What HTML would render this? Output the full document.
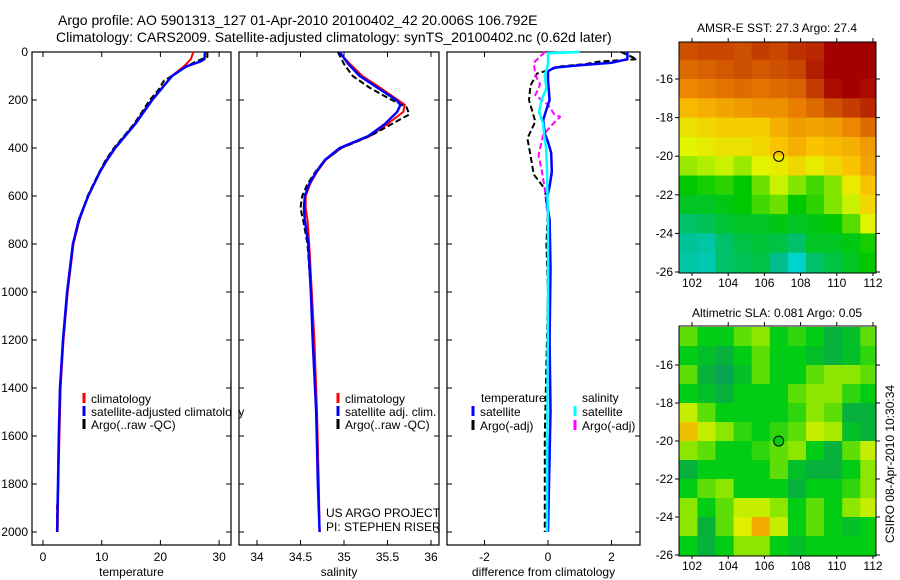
<!DOCTYPE html>
<html><head><meta charset="utf-8"><style>
html,body{margin:0;padding:0;background:#fff;}
svg{display:block;font-family:"Liberation Sans",sans-serif;}
</style></head><body>
<svg id="fig" width="900" height="580" viewBox="0 0 900 580" xmlns="http://www.w3.org/2000/svg">
<defs>
<clipPath id="c1"><rect x="679" y="42" width="197" height="231"/></clipPath>
<clipPath id="c2"><rect x="679" y="326" width="197" height="230"/></clipPath>
</defs>
<text x="58" y="25" font-size="14">Argo profile: AO 5901313_127 01-Apr-2010 20100402_42 20.006S 106.792E</text>
<text x="56" y="42" font-size="14">Climatology: CARS2009. Satellite-adjusted climatology: synTS_20100402.nc (0.62d later)</text>
<text x="777" y="32" font-size="12" text-anchor="middle">AMSR-E SST: 27.3 Argo: 27.4</text>
<text x="777" y="317" font-size="12" text-anchor="middle">Altimetric SLA: 0.081 Argo: 0.05</text>
<text x="0" y="0" font-size="12" text-anchor="middle" transform="translate(894,464) rotate(-90)">CSIRO 08-Apr-2010 10:30:34</text>
<g id="layer"></g>
</svg>
<script>
// ---- temperature profiles ----
const tDepthClim = [0,30,50,60,100,200,300,400,450,500,600,700,800,1000,1200,1400,1600,1800,2000];
const tClim      = [25.6,25.2,24.4,24.0,21.9,18.5,15.6,12.2,10.8,9.6,7.7,6.2,5.2,4.2,3.5,3.0,2.8,2.6,2.5];
const tDepthSat  = [0,30,40,60,100,200,300,400,450,500,600,700,800,1000,1200,1400,1600,1800,2000];
const tSat       = [27.6,27.5,26.8,24.4,22.0,18.6,15.7,12.3,10.9,9.7,7.7,6.1,5.1,4.1,3.4,2.9,2.7,2.55,2.4];
const tDepthArgo = [0,20,40,60,90,120,160,200,260,300,400,450,500,600,700,800,1000,1200,1400,1600,1800,1900,2000];
const tArgo      = [28.0,28.0,26.0,24.5,22.6,20.6,19.6,18.2,16.6,15.5,12.1,10.7,9.6,7.6,6.2,5.1,4.1,3.4,2.9,2.7,2.6,2.4,2.4];
// ---- salinity profiles ----
const sDepthClim = [0,20,50,100,150,200,220,250,300,350,400,450,500,550,600,650,700,800,1000,1200,1500,1800,2000];
const sClim      = [34.95,34.99,35.07,35.21,35.42,35.62,35.70,35.68,35.50,35.30,34.97,34.79,34.69,34.61,34.56,34.56,34.58,34.60,34.63,34.66,34.69,34.71,34.72];
const sDepthSat  = [0,20,50,100,150,200,220,250,300,350,400,450,500,550,600,650,700,800,1000,1200,1500,1800,2000];
const sSat       = [34.95,34.99,35.05,35.18,35.39,35.60,35.65,35.61,35.47,35.28,34.95,34.78,34.68,34.60,34.55,34.54,34.55,34.59,34.62,34.64,34.68,34.70,34.72];
const sDepthArgo = [0,50,100,150,200,230,260,300,350,400,450,500,550,600,650,700,800,1000,1200,1500,1800,2000];
const sArgo      = [34.93,35.00,35.10,35.30,35.55,35.72,35.75,35.55,35.30,34.97,34.78,34.67,34.58,34.52,34.50,34.53,34.58,34.62,34.64,34.68,34.70,34.72];
// ---- differences from climatology ----
const dDepthTSat  = [0,30,45,55,65,80,117,200,240,283,340,375,420,500,560,617,700,900,1200,1500,1800,2000];
const dTSat       = [2.5,2.5,2.0,1.0,0.2,0.0,0.0,0.05,-0.05,-0.15,-0.1,0.0,0.1,0.12,0.05,-0.05,0.05,0.08,0.05,0.08,0.03,0.0];
const dDepthTArgo = [0,30,40,50,60,90,140,200,290,360,430,510,570,660,800,1000,1300,1600,2000];
const dTArgo      = [2.3,2.8,1.6,1.2,0.4,-0.35,-0.55,-0.6,-0.4,-0.65,-0.55,-0.45,-0.1,0.0,-0.05,0.0,-0.05,-0.1,-0.1];
const dDepthSSat  = [0,5,50,100,150,200,250,300,350,400,500,700,1000,1500,2000];
const dSSat       = [1.0,0.0,0.0,-0.1,-0.05,-0.2,-0.28,-0.15,-0.12,-0.06,-0.03,0.0,0.0,-0.02,-0.03];
const dDepthSArgo = [0,45,95,135,180,220,260,270,300,345,430,490,570,700,1000,1500,2000];
const dSArgo      = [-0.1,-0.45,-0.4,-0.25,-0.4,0.0,0.2,0.38,0.15,-0.15,-0.3,-0.2,-0.1,0.0,0.0,-0.02,0.0];
// ---- maps ----
const mapLons = [101.8,102.8,103.8,104.8,105.8,106.8,107.8,108.8,109.8,110.8,111.8];
const mapLats = [-14.5,-15.5,-16.5,-17.5,-18.5,-19.5,-20.5,-21.5,-22.5,-23.5,-24.5,-25.5];
const sstGrid = [
 [27.95,28.0,28.0,27.95,28.05,28.0,28.1,28.15,28.35,28.4,28.4],
 [27.8,27.85,27.9,27.95,27.9,27.95,28.0,28.2,28.35,28.4,28.4],
 [27.65,27.7,27.75,27.8,27.75,27.8,27.85,28.05,28.3,28.35,28.3],
 [27.4,27.45,27.5,27.55,27.6,27.6,27.7,27.8,27.95,28.05,28.15],
 [27.2,27.25,27.3,27.3,27.3,27.45,27.55,27.5,27.55,27.65,27.8],
 [27.1,27.15,27.2,27.2,27.25,27.35,27.45,27.35,27.4,27.45,27.55],
 [26.95,27.0,27.05,26.95,27.1,27.15,27.25,27.15,27.25,27.35,27.5],
 [26.6,26.65,26.7,26.6,26.85,27.05,26.9,26.75,26.9,27.15,27.35],
 [26.5,26.5,26.55,26.6,26.75,26.85,26.6,26.7,26.9,27.05,27.25],
 [26.3,26.35,26.45,26.5,26.5,26.55,26.5,26.55,26.6,26.8,27.1],
 [26.15,26.1,26.3,26.4,26.45,26.4,26.3,26.5,26.5,26.55,26.65],
 [26.1,26.05,26.3,26.35,26.4,26.2,25.95,26.3,26.4,26.5,26.6]];
const slaGrid = [
 [0.07,0.05,0.05,0.07,0.08,0.05,0.06,0.05,0.03,0.04,0.07],
 [0.05,0.04,0.03,0.05,0.07,0.05,0.05,0.04,0.03,0.04,0.06],
 [0.07,0.03,0.02,0.04,0.07,0.05,0.05,0.07,0.08,0.08,0.07],
 [0.05,0.04,0.03,0.05,0.05,0.05,0.07,0.08,0.08,0.06,0.05],
 [0.10,0.07,0.05,0.05,0.05,0.05,0.06,0.08,0.07,0.03,0.03],
 [0.13,0.10,0.08,0.06,0.05,0.06,0.07,0.10,0.09,0.04,0.03],
 [0.08,0.07,0.05,0.05,0.06,0.07,0.08,0.05,0.03,0.07,0.10],
 [0.03,0.05,0.05,0.05,0.05,0.07,0.04,0.03,0.03,0.05,0.08],
 [0.05,0.07,0.08,0.05,0.05,0.05,0.03,0.05,0.05,0.06,0.08],
 [0.08,0.05,0.07,0.10,0.10,0.08,0.05,0.07,0.05,0.08,0.10],
 [0.08,0.03,0.07,0.11,0.14,0.10,0.05,0.07,0.05,0.04,0.05],
 [0.05,0.03,0.05,0.08,0.08,0.05,0.04,0.05,0.05,0.05,0.05]];
const depthTicks = [0,200,400,600,800,1000,1200,1400,1600,1800,2000];
const tTicks = [0,10,20,30];
const sTicks = [34,34.5,35,35.5,36];
const dTicks = [-2,0,2];
const lonTicks = [102,104,106,108,110,112];
const latTicks = [-16,-18,-20,-22,-24,-26];
const argoLon = 106.792, argoLat = -20.006;

const NS="http://www.w3.org/2000/svg";
const L=document.getElementById('layer');
function mk(tag,at,parent){const e=document.createElementNS(NS,tag);for(const k in at)e.setAttribute(k,at[k]);(parent||L).appendChild(e);return e;}
const yD=d=>52+0.24*d;
const xT=t=>43+5.87*t;
const xS=s=>257+87*(s-34);
const xDf=v=>548+31.75*v;
const xLon=l=>692+18.1*(l-102);
const yLat1=l=>79+19.3*(-16-l);
const yLat2=l=>365+19.0*(-16-l);

function panel(x0,x1,name,ticks,xf,label,labelDepth){
  const g=mk('g',{});
  
  
  const r=mk('rect',{x:x0,y:52,width:x1-x0,height:493,fill:'none',stroke:'#000','stroke-width':1.2},g);
  
  
  ticks.forEach(v=>{const x=xf(v);
    mk('line',{x1:x,x2:x,y1:52,y2:57,stroke:'#000'},g);
    mk('line',{x1:x,x2:x,y1:545,y2:540,stroke:'#000'},g);
    const t=mk('text',{x:x,y:561,'font-size':12,'text-anchor':'middle'},g);t.textContent=v;
    
    
  });
  depthTicks.forEach(d=>{const y=yD(d);
    mk('line',{x1:x0,x2:x0+5,y1:y,y2:y,stroke:'#000'},g);
    mk('line',{x1:x1,x2:x1-5,y1:y,y2:y,stroke:'#000'},g);
    if(labelDepth){const t=mk('text',{x:28,y:y+4,'font-size':12,'text-anchor':'end'},g);t.textContent=d;
      
      }
  });
  const lb=mk('text',{x:(x0+x1)/2,y:576,'font-size':12,'text-anchor':'middle'},g);lb.textContent=label;
  
  
}
function series(depths,vals,xf,color,w,dash,name){
  const pts=depths.map((d,i)=>xf(vals[i]).toFixed(1)+','+yD(d).toFixed(1)).join(' ');
  const p=mk('polyline',{points:pts,fill:'none',stroke:color,'stroke-width':w,'stroke-dasharray':dash||'none','stroke-linejoin':'round'});
  
  
}
function legend(x,y,color,txt,name){
  const m=mk('line',{x1:x,x2:x,y1:y-10,y2:y,stroke:color,'stroke-width':3});
  
  
  const t=mk('text',{x:x+7,y:y,'font-size':12});t.textContent=txt;
  
  
}
function txt(x,y,s,name){const t=mk('text',{x:x,y:y,'font-size':12});t.textContent=s;
  
  }

panel(32,231,'temperature-panel',tTicks,xT,'temperature',true);
series(tDepthClim,tClim,xT,'#f00',2,null,'temp-climatology-line');
series(tDepthArgo,tArgo,xT,'#000',2,'6,3','temp-argo-line');
series(tDepthSat,tSat,xT,'#00f',2.5,null,'temp-satellite-line');
legend(84,403,'#f00','climatology','legend-climatology');
legend(84,416,'#00f','satellite-adjusted climatology','legend-satellite-adjusted');
legend(84,429,'#000','Argo(..raw -QC)','legend-argo-raw');
mk('rect',{x:231.6,y:380,width:7,height:60,fill:'#fff'});
mk('line',{x1:231,x2:231,y1:380,y2:440,stroke:'#000','stroke-width':1.2});

panel(239,439,'salinity-panel',sTicks,xS,'salinity',false);
series(sDepthClim,sClim,xS,'#f00',2,null,'sal-climatology-line');
series(sDepthArgo,sArgo,xS,'#000',2,'6,3','sal-argo-line');
series(sDepthSat,sSat,xS,'#00f',2.5,null,'sal-satellite-line');
legend(338,403,'#f00','climatology','legend-sal-climatology');
legend(338,416,'#00f','satellite adj. clim.','legend-sal-satellite');
legend(338,429,'#000','Argo(..raw -QC)','legend-sal-argo');
txt(326,517,'US ARGO PROJECT','project-credit');
txt(326,531,'PI: STEPHEN RISER','pi-credit');

panel(447,640,'difference-panel',dTicks,xDf,'difference from climatology',false);
series(dDepthTArgo,dTArgo,xDf,'#000',2,'6,3','diff-temp-argo-line');
series(dDepthSArgo,dSArgo,xDf,'#f0f',2,'6,3','diff-sal-argo-line');
series(dDepthTSat,dTSat,xDf,'#00f',2.5,null,'diff-temp-satellite-line');
series(dDepthSSat,dSSat,xDf,'#0ff',2.5,null,'diff-sal-satellite-line');
txt(481,402,'temperature','legend-temperature-heading');
txt(582,402,'salinity','legend-salinity-heading');
legend(473,416,'#00f','satellite','legend-diff-temp-satellite');
legend(473,430,'#000','Argo(-adj)','legend-diff-temp-argo');
legend(575,416,'#0ff','satellite','legend-diff-sal-satellite');
legend(575,430,'#f0f','Argo(-adj)','legend-diff-sal-argo');

function lerpCol(stops,v){
  if(v<=stops[0][0])return stops[0][1];
  for(let i=1;i<stops.length;i++){if(v<=stops[i][0]){const a=stops[i-1],b=stops[i],f=(v-a[0])/(b[0]-a[0]);
    return 'rgb('+a[1].map((c,k)=>Math.round(c+(b[1][k]-c)*f)).join(',')+')';}}
  return stops[stops.length-1][1];
}
const sstStops=[[25.9,[0,215,215]],[26.2,[0,190,140]],[26.6,[0,200,0]],[26.9,[130,230,0]],[27.1,[225,245,0]],[27.35,[250,195,0]],[27.7,[232,125,0]],[28.0,[200,70,0]],[28.35,[165,0,0]]];
const slaStops=[[0.02,[10,165,80]],[0.05,[0,205,20]],[0.08,[140,230,0]],[0.11,[225,240,0]],[0.14,[245,170,0]]];
function fixArr(c){return Array.isArray(c)?'rgb('+c.join(',')+')':c;}
function drawMap(grid,stops,yLat,clip,name,fy0,fy1,circleFill){
  const g=mk('g',{'clip-path':'url(#'+clip+')'});
  
  
  grid.forEach((row,i)=>row.forEach((v,j)=>{
    const x0=xLon(mapLons[j]-0.5),x1=xLon(mapLons[j]+0.5),y0=yLat(mapLats[i]+0.5),y1=yLat(mapLats[i]-0.5);
    const c=mk('rect',{x:x0.toFixed(1),y:y0.toFixed(1),width:(x1-x0+0.6).toFixed(1),height:(y1-y0+0.6).toFixed(1),fill:fixArr(lerpCol(stops,v))},g);
    
    
  }));
  const f=mk('rect',{x:679,y:fy0,width:197,height:fy1-fy0,fill:'none',stroke:'#000','stroke-width':1});
  
  
  lonTicks.forEach(l=>{const x=xLon(l);
    mk('line',{x1:x,x2:x,y1:fy0,y2:fy0-4,stroke:'#000'});
    mk('line',{x1:x,x2:x,y1:fy1,y2:fy1+3,stroke:'#000'});
    const t=mk('text',{x:x,y:fy1+14,'font-size':12,'text-anchor':'middle'});t.textContent=l;
    
    });
  latTicks.forEach(l=>{const y=yLat(l);
    mk('line',{x1:679,x2:675,y1:y,y2:y,stroke:'#000'});
    mk('line',{x1:876,x2:880,y1:y,y2:y,stroke:'#000'});
    const t=mk('text',{x:673,y:y+4,'font-size':12,'text-anchor':'end'});t.textContent=l;
    
    });
  const c=mk('circle',{cx:xLon(argoLon),cy:yLat(argoLat),r:5,fill:circleFill,stroke:'#000','stroke-width':1});
  
  
}
drawMap(sstGrid,sstStops,yLat1,'c1','sst-map',42,273,'none');
drawMap(slaGrid,slaStops,yLat2,'c2','sla-map',326,556,'rgb(0,205,20)');
</script>
</body></html>
